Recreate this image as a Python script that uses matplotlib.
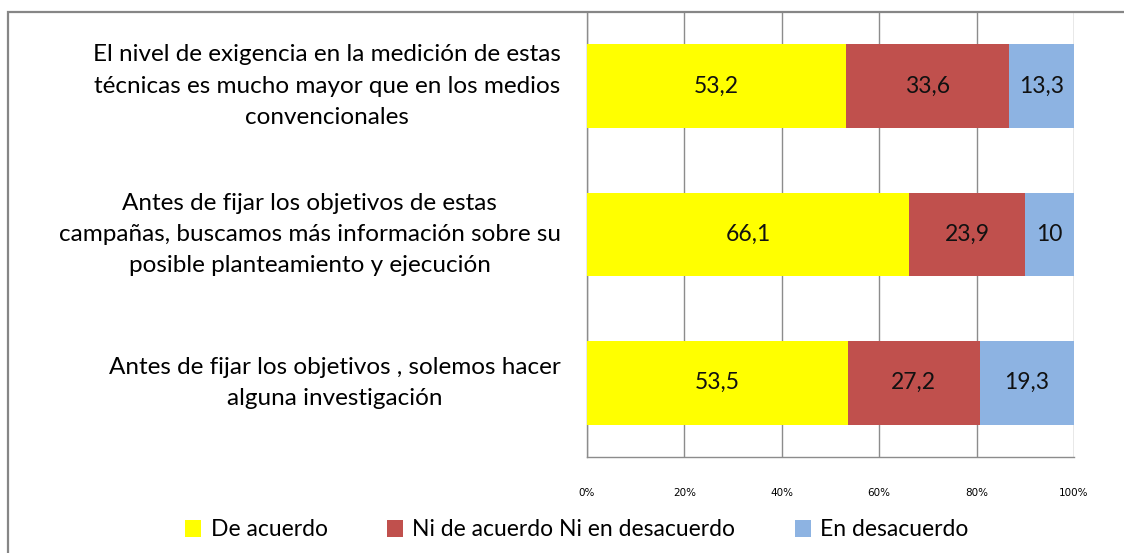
import matplotlib
matplotlib.use("Agg")
import matplotlib.pyplot as plt
from matplotlib.patches import Rectangle

# statements, top to bottom
categories = [
    "El nivel de exigencia en la medición de estas\ntécnicas es mucho mayor que en los medios\nconvencionales",
    "Antes de fijar los objetivos de estas\ncampañas, buscamos más información sobre su\nposible planteamiento y ejecución",
    "Antes de fijar los objetivos , solemos hacer\nalguna investigación",
]
de_acuerdo = [53.2, 66.1, 53.5]
ni_ni = [33.6, 23.9, 27.2]
desacuerdo = [13.3, 10.0, 19.3]
series_names = ["De acuerdo", "Ni de acuerdo Ni en desacuerdo", "En desacuerdo"]
value_labels = [["53,2", "66,1", "53,5"], ["33,6", "23,9", "27,2"], ["13,3", "10", "19,3"]]
x_ticks = [0, 20, 40, 60, 80, 100]
x_ticklabels = ["0%", "20%", "40%", "60%", "80%", "100%"]

colors = ["#FFFF00", "#C0504D", "#8DB3E2"]
grid_col = "#8C8C8C"

plt.rcParams["font.family"] = ["Lato", "DejaVu Sans"]

fig = plt.figure(figsize=(11.24, 5.53), dpi=100)
ax = fig.add_axes([587 / 1124, 1 - 457 / 553, 487 / 1124, 445 / 553])

ypos = [2, 1, 0]
series = [de_acuerdo, ni_ni, desacuerdo]
left = [0.0, 0.0, 0.0]
handles = []
for vals, col, name, labs in zip(series, colors, series_names, value_labels):
    # normalise to 100 % like the original stacked chart
    tot = [a + b + c for a, b, c in zip(de_acuerdo, ni_ni, desacuerdo)]
    w = [v / t * 100 for v, t in zip(vals, tot)]
    bars = ax.barh(ypos, w, left=left, height=0.565, color=col, label=name, zorder=3)
    handles.append(bars)
    for y, l, ww, s in zip(ypos, left, w, labs):
        ax.text(l + ww / 2, y, s, ha="center", va="center", fontsize=16.5, color="#111111", zorder=4)
    left = [l + ww for l, ww in zip(left, w)]

ax.set_xlim(0, 100)
ax.set_ylim(-0.5, 2.5)
ax.set_xticks(x_ticks)
ax.set_xticklabels(x_ticklabels, fontsize=7.5, family="DejaVu Sans")
ax.set_yticks(ypos)
ax.set_yticklabels(categories, fontsize=17.5, linespacing=1.6, va="center")
for t in ax.get_yticklabels():
    t.set_multialignment("center")
ax.tick_params(axis="y", length=0, pad=19)
ax.tick_params(axis="x", length=0, pad=22)
ax.grid(axis="x", color=grid_col, linewidth=1, zorder=0)
for s in ["top", "right"]:
    ax.spines[s].set_visible(False)
for s in ["left", "bottom"]:
    ax.spines[s].set_color(grid_col)
    ax.spines[s].set_linewidth(1)

fig.legend(handles, series_names, loc="center", bbox_to_anchor=(577 / 1124, 1 - 530 / 553),
           ncol=3, frameon=False, fontsize=16.5, handlelength=0.7, handleheight=0.7,
           handletextpad=0.4, columnspacing=2.6)

# outer chart frame (cropped on right and bottom)
fig.patches.append(Rectangle((8 / 1124, -0.1), 1.2, 1 - 12 / 553 + 0.1, transform=fig.transFigure,
                             fill=False, edgecolor="#868686", linewidth=1.6))

fig.savefig("out.png", dpi=100)
